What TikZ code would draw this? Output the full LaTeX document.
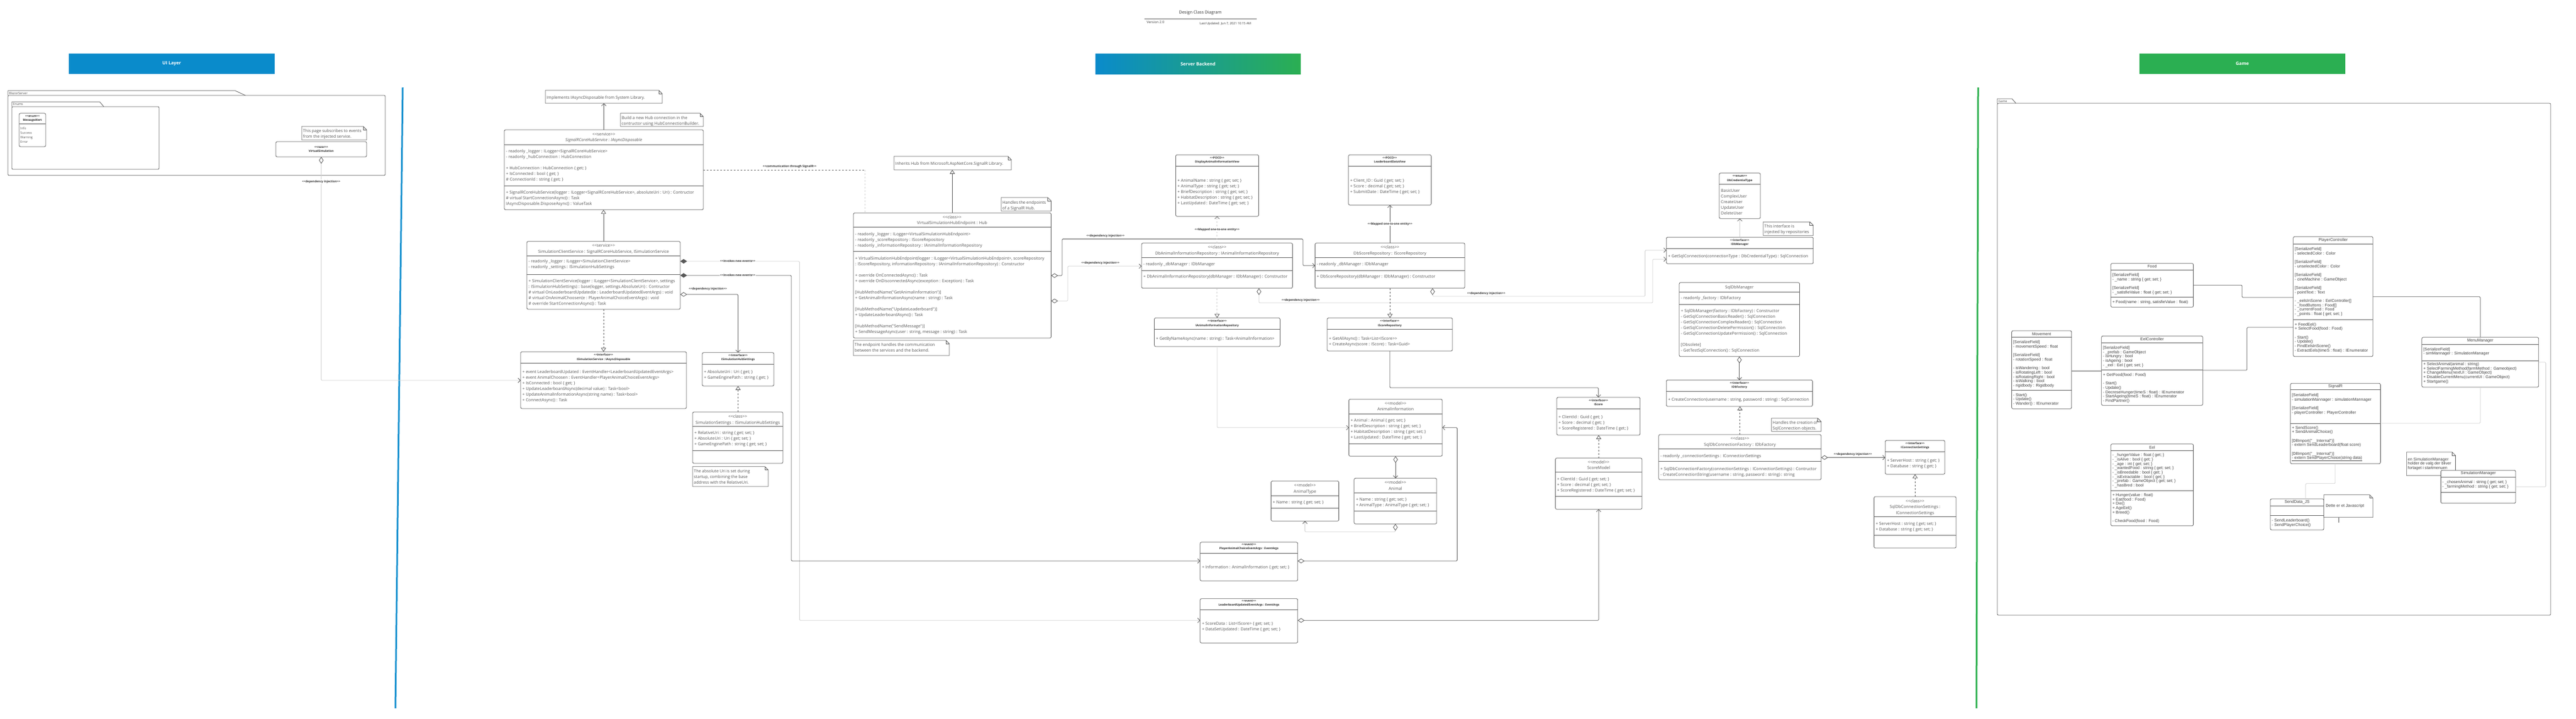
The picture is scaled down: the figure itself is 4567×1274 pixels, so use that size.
\documentclass[tikz,border=0pt]{standalone}
\usepackage{fontspec}
\newfontfamily\osans{Open Sans}
\newfontfamily\lsans{Liberation Sans}
\usetikzlibrary{arrows.meta}
\definecolor{bxl}{HTML}{5C5C5C}
\definecolor{txt}{HTML}{555555}
\definecolor{gtxt}{HTML}{404040}
\definecolor{dk}{HTML}{595959}
\definecolor{ltc}{HTML}{D0D0D0}
\definecolor{uiblue}{HTML}{0A8BCB}
\definecolor{gmgreen}{HTML}{2BAF52}
\definecolor{sepblue}{HTML}{1690CF}
\definecolor{sepgreen}{HTML}{2CB04E}
\tikzset{
  ubx/.style={draw=bxl,line width=0.8pt,fill=white,rounded corners=2.5pt,inner sep=0pt,outer sep=0pt},
  ubl/.style={draw=bxl,line width=0.8pt},
  pkg/.style={draw=bxl,line width=0.8pt},
  pkglbl/.style={font=\osans\fontsize{5.5}{6}\selectfont,text=black!70,anchor=west,inner sep=0pt},
  memst/.style={font=\osans\fontsize{7.3}{10}\selectfont,text=txt,align=left,inner sep=0pt,anchor=north west},
  gmemst/.style={font=\lsans\fontsize{7.2}{7.65}\selectfont,text=gtxt,align=left,inner sep=0pt,anchor=north west},
  hAst/.style={font=\osans\fontsize{7.3}{10.5}\selectfont,text=txt,align=center,inner sep=0pt},
  hBst/.style={font=\osans\bfseries\fontsize{5}{7.5}\selectfont,text=black!85,align=center,inner sep=0pt},
  gtitle/.style={font=\lsans\fontsize{7.2}{8}\selectfont,text=gtxt,inner sep=0pt},
  notest/.style={draw=bxl,line width=0.8pt,fill=white},
  conn/.style={line width=0.8pt,draw=dk,rounded corners=1.5pt},
  lconn/.style={line width=0.8pt,draw=ltc,rounded corners=1.5pt},
  lbl/.style={font=\osans\bfseries\fontsize{5.2}{6}\selectfont,text=black!80,inner sep=1pt},
  banner/.style={text=white,font=\osans\bfseries\fontsize{8}{9}\selectfont,inner sep=0pt,outer sep=0pt},
  oa/.tip={Straight Barb[length=4pt,width=8pt,color=dk]},
  tri/.tip={Triangle[length=7pt,width=9pt,color=dk,fill=white]},
  odia/.tip={Diamond[length=12pt,width=8pt,color=dk,fill=white]},
  fdia/.tip={Diamond[length=12pt,width=8pt,color=dk]},
}
\newcommand\ubox[5]{\node[ubx,minimum width={(#4)-(#2)},minimum height={(#5)-(#3)},anchor=north west] (#1) at (#2,#3) {};}
\newcommand\dv[3]{\draw[ubl] (#1,#3) -- (#2,#3);}
\newcommand\mem[3]{\node[memst] at ({#1+3},{#2-4.4}) {\strut #3};}
\newcommand\gmem[3]{\node[gmemst] at ({#1+2.5},{#2-2.7}) {\strut #3};}
\newcommand\hA[4]{\node[hAst] at (#1,#2) {\strut #3\\\strut #4};}
\newcommand\hB[4]{\node[hBst] at (#1,#2) {\strut #3\\\strut #4};}
\newcommand\unote[5]{%
  \node[inner sep=0pt,outer sep=0pt,minimum width={(#4)-(#2)},minimum height={(#5)-(#3)},anchor=north west] (#1) at (#2,#3) {};
  \draw[notest] (#2,#3) -- ({#4-6},#3) -- (#4,{#3+6}) -- (#4,#5) -- (#2,#5) -- cycle;
  \draw[ubl] ({#4-6},#3) -- ({#4-6},{#3+6}) -- (#4,{#3+6});}
\begin{document}
\begin{tikzpicture}[x=1pt,y=-1pt,font=\osans]
\useasboundingbox (0,0) rectangle (4567,1274);
\fill[white] (0,0) rectangle (4567,1274);

% ---------- title ----------
\node[font=\osans\fontsize{7.5}{9}\selectfont,text=black!80,inner sep=0pt] (title) at (2128,23) {Design Class Diagram};
\draw[black!60,line width=0.8pt] (2029,33) -- (2228,33);
\node[font=\osans\fontsize{6}{7}\selectfont,anchor=west,text=black!75,inner sep=0pt] (ver) at (2033,39) {Version 2.0};
\node[font=\osans\fontsize{5.5}{7}\selectfont,anchor=west,text=black!80,inner sep=0pt] (upd) at (2127,42) {Last Updated: Jun 7, 2021 10:15 AM};

% ---------- banners & separators ----------
\node[banner,fill=uiblue,minimum width=365,minimum height=36] (uiHdr) at (304.5,113) {UI Layer};
\node[banner,left color=uiblue,right color=gmgreen,minimum width=364,minimum height=36] (srvHdr) at (2124,113) {Server Backend};
\node[banner,fill=gmgreen,minimum width=365,minimum height=36] (gmHdr) at (3975.5,113) {Game};
\draw[sepblue,line width=3pt] (714,155) -- (701,1255);
\draw[sepgreen,line width=3pt] (3507,155) -- (3504,1255);

% ---------- UI layer ----------
\draw[pkg] (14,169) -- (14,160.7) -- (417,160.7) -- (435,169);
\draw[pkg,rounded corners=2pt] (14,169) rectangle (683,310.7);
\node[pkglbl] (pkgBlazor) at (16,165) {BlazorServer};
\draw[pkg] (21,189) -- (21,180.7) -- (177,180.7) -- (184,189);
\draw[pkg,rounded corners=2pt] (21,189) rectangle (282,300);
\node[pkglbl] (pkgEnums) at (23,185) {Enums};

\ubox{msgAlert}{34}{200.7}{81}{260}
\dv{34}{81}{219}
\hB{57.5}{209.5}{<<enum>>}{MessageAlert}
\node[font=\osans\fontsize{5.6}{8}\selectfont,text=txt,align=left,inner sep=0pt,anchor=north west] at (36,224) {\strut Info\\Success\\Warning\\Error};

\unote{noteUI}{535}{224}{650}{248}
\node[memst] at (537,227.3) {\strut This page subscribes to events\\from the injected service.};
\ubox{virtSim}{489}{251}{650}{278}
\hB{569.5}{264.5}{<<razor>>}{VirtualSimulation}

% ---------- Server: client side ----------
\unote{nImpl}{967}{160}{1174}{183}
\node[memst] at (969,168.6) {\strut Implements IAsyncDisposable from System Library.};
\unote{nBuild}{1100}{200.7}{1247}{224}
\node[memst] at (1102,203.9) {\strut Build a new Hub connection in the\\contructor using HubConnectionBuilder.};

\ubox{hubSvc}{894}{230}{1247}{371.7}
\dv{894}{1247}{256.7}\dv{894}{1247}{329}
\hA{1070.5}{243.5}{<<service>>}{{\itshape SignalRCoreHubService : IAsyncDisposable}}
\mem{894}{268}{- readonly \_logger : ILogger<SignalRCoreHubService>\\- readonly \_hubConnection : HubConnection\\~\\+ HubConnection : HubConnection \{ get; \}\\+ IsConnected : bool \{ get; \}\\\# ConnectionId : string \{ get; \}}
\mem{894}{341}{+ SignalRCoreHubService(logger : ILogger<SignalRCoreHubService>, absoluteUri : Uri) : Contructor\\\# virtual StartConnectionAsync() : Task\\IAsyncDisposable.DisposeAsync() : ValueTask}

\ubox{simCli}{934}{427.7}{1206}{548}
\dv{934}{1206}{453}\dv{934}{1206}{486}
\hA{1070}{441}{<<service>>}{SimulationClientService : SignalRCoreHubService, ISimulationService}
\mem{934}{463}{- readonly \_logger : ILogger<SimulationClientService>\\- readonly \_settings : ISimulationHubSettings}
\mem{934}{497.7}{+ SimulationClientService(logger : ILogger<SimulationClientService>, settings\\: ISimulationHubSettings) : base(logger, settings.AbsoluteUri) : Contructor\\\# virtual OnLeaderboardUpdated(e : LeaderboardUpdatedEventArgs) : void\\\# virtual OnAnimalChoosen(e : PlayerAnimalChoiceEventArgs) : void\\\# override StartConnectionAsync() : Task}

\ubox{iss}{923}{623.3}{1217}{724}
\dv{923}{1217}{643.3}
\hB{1070}{632.8}{<<interface>>}{ISimulationService : IAsyncDisposable}
\mem{923}{659}{+ event LeaderboardUpdated : EventHandler<LeaderboardUpdatedEventArgs>\\+ event AnimalChoosen : EventHandler<PlayerAnimalChoiceEventArgs>\\+ IsConnected : bool \{ get; \}\\+ UpdateLeaderboardAsync(decimal value) : Task<bool>\\+ UpdateAnimalInformationAsync(string name) : Task<bool>\\+ ConnectAsync() : Task}

\ubox{ishs}{1245}{624.7}{1372}{684}
\dv{1245}{1372}{645}
\hB{1308.5}{633.7}{<<interface>>}{ISimulationHubSettings}
\mem{1245}{659}{+ AbsoluteUri : Uri \{ get; \}\\+ GameEnginePath : string \{ get; \}}

\ubox{simSet}{1228}{730}{1388}{821}
\dv{1228}{1388}{755.7}\dv{1228}{1388}{798}
\hA{1308}{744}{<<class>>}{SimulationSettings : ISimulationHubSettings}
\mem{1228}{767}{+ RelativeUri : string \{ get; set; \}\\+ AbsoluteUri : Uri \{ get; set; \}\\+ GameEnginePath : string \{ get; set; \}}
\unote{nUri}{1228}{826.7}{1362}{862}
\node[memst] at (1230,830.3) {\strut The absolute Uri is set during\\startup, combining the base\\address with the RelativeUri.};

% connectors client side
\draw[conn,-oa] (hubSvc.north) -- (hubSvc.north |- nImpl.south);
\draw[conn,-tri] (simCli.north) -- (simCli.north |- hubSvc.south);
\draw[conn,dashed,-tri] (simCli.south) -- (simCli.south |- iss.north);
\draw[lconn,fdia-oa] (simCli.east |- 0,463) -- (1417.5,463) -- (1417.5,1099.3) -- (2127.8,1099.3);
\draw[conn,fdia-oa] (simCli.east |- 0,488) -- (1403,488) -- (1403,994) -- (2127.8,994);
\draw[conn,odia-oa] (simCli.east |- 0,521.7) -| (ishs.north);
\draw[conn,dashed,-tri] (ishs.south |- simSet.north) -- (ishs.south);
\draw[lconn,odia-oa] (virtSim.south) |- (iss.west |- 0,674);
\node[lbl,fill=white] (lblVS) at (569.5,322) {<<dependency injection>>};
\node[lbl,fill=white] (lblInv1) at (1308,463) {<<invokes new events>>};
\node[lbl,fill=white] (lblInv2) at (1308,488) {<<invokes new events>>};
\node[lbl] (lblDI1) at (1255,512) {<<dependency injection>>};

% ---------- Server: hub endpoint ----------
\unote{nHub}{1585}{277}{1793}{301}
\node[memst] at (1587,285.3) {\strut Inherits Hub from Microsoft.AspNetCore.SignalR Library.};
\unote{nEndp}{1775}{350}{1863.6}{374}
\node[memst] at (1777,353.9) {\strut Handles the endpoints\\of a SignalR Hub.};
\ubox{vshe}{1513}{377.3}{1863.6}{599}
\dv{1513}{1863.6}{402}\dv{1513}{1863.6}{445}
\hA{1688}{390.5}{<<class>>}{VirtualSimulationHubEndpoint : Hub}
\mem{1513}{414.7}{- readonly \_logger : ILogger<VirtualSimulationHubEndpoint>\\- readonly \_scoreRepository : IScoreRepository\\- readonly \_informationRepository : IAnimalInformationRepository}
\mem{1513}{457.3}{+ VirtualSimulationHubEndpoint(logger : ILogger<VirtualSimulationHubEndpoint>, scoreRepository\\: IScoreRepository, informationRepository : IAnimalInformationRepository) : Constructor\\~\\+ override OnConnectedAsync() : Task\\+ override OnDisconnectedAsync(exception : Exception) : Task\\~\\{}[HubMethodName("GetAnimalInformation")]\\+ GetAnimalInformationAsync(name : string) : Task\\~\\{}[HubMethodName("UpdateLeaderboard")]\\+ UpdateLeaderboardAsync() : Task\\~\\{}[HubMethodName("SendMessage")]\\+ SendMessageAsync(user : string, message : string) : Task}
\unote{nComm}{1513}{603}{1683}{630}
\node[memst] at (1515,606.6) {\strut The endpoint handles the communication\\between the services and the backend.};

\draw[conn,-tri] (vshe.north) -- (vshe.north |- nHub.south);
\draw[conn,dashed] (hubSvc.east |- 0,301) -- (1533,301);
\draw[lconn,dashed] (1533,301) -- (vshe.north -| 1533,0);
\node[lbl] (lblComm) at (1400,295) {<<communication through SignalR>>};

% ---------- Server: repositories ----------
\ubox{dispView}{2084.4}{274.3}{2231.5}{383.3}
\dv{2084.4}{2231.5}{294}
\hB{2158}{283.3}{<<POCO>>}{DisplayAnimalInformationView}
\mem{2084.4}{319.3}{+ AnimalName : string \{ get; set; \}\\+ AnimalType : string \{ get; set; \}\\+ BriefDescription : string \{ get; set; \}\\+ HabitatDescription : string \{ get; set; \}\\+ LastUpdated : DateTime \{ get; set; \}}

\ubox{lbView}{2390.7}{274.3}{2537.4}{363.3}
\dv{2390.7}{2537.4}{294}
\hB{2464}{283.3}{<<POCO>>}{LeaderboardDataView}
\mem{2390.7}{319.3}{+ Client\_ID : Guid \{ get; set; \}\\+ Score : decimal \{ get; set; \}\\+ SubmitDate : DateTime \{ get; set; \}}

\ubox{dbAnim}{2024}{430.7}{2291.5}{510.7}
\dv{2024}{2291.5}{456.7}\dv{2024}{2291.5}{479}
\hA{2157.8}{444}{<<class>>}{DbAnimalInformationRepository : IAnimalInformationRepository}
\mem{2024}{467.3}{- readonly \_dbManager : IDbManager}
\mem{2024}{490}{+ DbAnimalInformationRepository(dbManager : IDbManager) : Constructor}

\ubox{dbScore}{2331.5}{430.7}{2597}{510.7}
\dv{2331.5}{2597}{456.7}\dv{2331.5}{2597}{479}
\hA{2464.3}{444}{<<class>>}{DbScoreRepository : IScoreRepository}
\mem{2331.5}{467.3}{- readonly \_dbManager : IDbManager}
\mem{2331.5}{490}{+ DbScoreRepository(dbManager : IDbManager) : Constructor}

\ubox{iair}{2046.5}{563.3}{2269.4}{614}
\dv{2046.5}{2269.4}{583.3}
\hB{2158}{573}{<<interface>>}{IAnimalInformationRepository}
\mem{2046.5}{600}{+ GetByNameAsync(name : string) : Task<AnimalInformation>}

\ubox{isr}{2353}{563.3}{2575}{622}
\dv{2353}{2575}{583.3}
\hB{2464}{573}{<<interface>>}{IScoreRepository}
\mem{2353}{599.3}{+ GetAllAsync() : Task<List<IScore>>\\+ CreateAsync(score : IScore) : Task<Guid>}

\ubox{animInfo}{2391.4}{707.3}{2557}{808.3}
\dv{2391.4}{2557}{733.3}\dv{2391.4}{2557}{786.7}
\hA{2474.2}{720.5}{<<model>>}{AnimalInformation}
\mem{2391.4}{744.7}{+ Animal : Animal \{ get; set; \}\\+ BriefDescription : string \{ get; set; \}\\+ HabitatDescription : string \{ get; set; \}\\+ LastUpdated : DateTime \{ get; set; \}}

\ubox{animal}{2400.8}{847.3}{2547}{928.3}
\dv{2400.8}{2547}{873.3}\dv{2400.8}{2547}{905.7}
\hA{2473.9}{860.8}{<<model>>}{Animal}
\mem{2400.8}{884.7}{+ Name : string \{ get; set; \}\\+ AnimalType : AnimalType \{ get; set; \}}

\ubox{animType}{2253.5}{852.3}{2373.6}{923.3}
\dv{2253.5}{2373.6}{878.3}\dv{2253.5}{2373.6}{900}
\hA{2313.5}{865.7}{<<model>>}{AnimalType}
\mem{2253.5}{890}{+ Name : string \{ get; set; \}}

\ubox{paEv}{2127.8}{960.7}{2300.7}{1029.3}
\dv{2127.8}{2300.7}{980.7}
\hB{2214.2}{968.7}{<<event>>}{PlayerAnimalChoiceEventArgs : EventArgs}
\mem{2127.8}{1005}{+ Information : AnimalInformation \{ get; set; \}}

\ubox{luEv}{2127.8}{1060.7}{2300.7}{1139.3}
\dv{2127.8}{2300.7}{1080.7}
\hB{2214.2}{1068.7}{<<event>>}{LeaderboardUpdatedEventArgs : EventArgs}
\mem{2127.8}{1105}{+ ScoreData : List<IScore> \{ get; set; \}\\+ DataSetUpdated : DateTime \{ get; set; \}}

\ubox{iscore}{2760}{704}{2907.7}{771}
\dv{2760}{2907.7}{724}
\hB{2833.9}{713.7}{<<interface>>}{IScore}
\mem{2760}{738.3}{+ ClientId : Guid \{ get; \}\\+ Score : decimal \{ get; \}\\+ ScoreRegistered : DateTime \{ get; \}}

\ubox{scoreModel}{2757.5}{811.7}{2911}{902.3}
\dv{2757.5}{2911}{836.3}\dv{2757.5}{2911}{879.3}
\hA{2834.2}{824.5}{<<model>>}{ScoreModel}
\mem{2757.5}{848.7}{+ ClientId : Guid \{ get; set; \}\\+ Score : decimal \{ get; set; \}\\+ ScoreRegistered : DateTime \{ get; set; \}}

% ---------- Server: database ----------
\ubox{dbCred}{3048}{306.7}{3121}{387.3}
\dv{3048}{3121}{326.7}
\hB{3084.5}{316}{<<enum>>}{DbCredentialType}
\mem{3048}{337.3}{BasicUser\\ComplexUser\\CreateUser\\UpdateUser\\DeleteUser}
\unote{nInj}{3126}{393.3}{3214.8}{417.3}
\node[memst] at (3128,396.3) {\strut This interface is\\injected by repositories};

\ubox{idbm}{2954.2}{420.3}{3214.8}{467.3}
\dv{2954.2}{3214.8}{440.3}
\hB{3084.5}{429.3}{<<interface>>}{IDbManager}
\mem{2954.2}{454}{+ GetSqlConnection(connectionType : DbCredentialType) : SqlConnection}

\ubox{sqlMgr}{2977}{500.7}{3190.5}{631.7}
\dv{2977}{3190.5}{517.3}\dv{2977}{3190.5}{539}
\node[hAst] (sqlMgrT) at (3083.75,509.3) {SqlDbManager};
\mem{2977}{528}{- readonly \_factory : IDbFactory}
\mem{2977}{550.7}{+ SqlDbManager(factory : IDbFactory) : Constructor\\- GetSqlConnectionBasicReader() : SqlConnection\\- GetSqlConnectionComplexReader() : SqlConnection\\- GetSqlConnectionDeletePermission() : SqlConnection\\- GetSqlConnectionUpdatePermission() : SqlConnection\\~\\{}[Obsolete]\\- GetTestSqlConnection() : SqlConnection}

\ubox{idbf}{2954.2}{673.3}{3213.4}{720}
\dv{2954.2}{3213.4}{693.3}
\hB{3083.8}{682.7}{<<interface>>}{IDbFactory}
\mem{2954.2}{707.3}{+ CreateConnection(username : string, password : string) : SqlConnection}

\unote{nCreate}{3140.7}{741}{3228.7}{764.3}
\node[memst] at (3142.7,743.9) {\strut Handles the creation of\\SqlConnection objects.};
\ubox{sqlFac}{2940.7}{770}{3228.7}{850}
\dv{2940.7}{3228.7}{795.7}\dv{2940.7}{3228.7}{817.7}
\hA{3084.7}{783}{<<class>>}{SqlDbConnectionFactory : IDbFactory}
\mem{2940.7}{807.7}{- readonly \_connectionSettings : IConnectionSettings}
\mem{2940.7}{830.3}{+ SqlDbConnectionFactory(connectionSettings : IConnectionSettings) : Contructor\\- CreateConnectionString(username : string, password : string) : string}

\ubox{ics}{3342.3}{780.3}{3448}{840.3}
\dv{3342.3}{3448}{800}
\hB{3395.2}{789.7}{<<interface>>}{IConnectionSettings}
\mem{3342.3}{815.7}{+ ServerHost : string \{ get; \}\\+ Database : string \{ get; \}}

\ubox{sqlSet}{3322.4}{880}{3468}{971}
\dv{3322.4}{3468}{915.3}\dv{3322.4}{3468}{948.3}
\node[hAst] (sqlSetT) at (3395.2,898.5) {\strut <<class>>\\\strut SqlDbConnectionSettings :\\\strut IConnectionSettings};
\mem{3322.4}{927.3}{+ ServerHost : string \{ get; set; \}\\+ Database : string \{ get; set; \}}

% connectors server side
\draw[conn,odia-oa] (vshe.east |- 0,488.3) -- (1883,488.3) -- (1883,423.5) -- (2310,423.5) -- (2310,470.7) -- (dbScore.west |- 0,470.7);
\draw[lconn,odia-oa] (vshe.east |- 0,533.3) -- (1893,533.3) -- (1893,471.7) -- (dbAnim.west |- 0,471.7);
\node[lbl] (lblDI2) at (1960,418) {<<dependency injection>>};
\node[lbl] (lblDI3) at (1951,466) {<<dependency injection>>};
\draw[lconn,dashed,-oa] (dbAnim.north) -- (dbAnim.north |- dispView.south);
\node[lbl,fill=white] (lblMap1) at (2157.8,407) {<<Mapped one-to-one entity>>};
\draw[conn,-oa] (dbScore.north) -- (dbScore.north |- lbView.south);
\node[lbl,fill=white] (lblMap2) at (2464.3,396.7) {<<Mapped one-to-one entity>>};
\draw[lconn,odia-oa] (dbAnim.south -| 2232,0) -- (2232,536.7) -- (2930,536.7) -- (2930,459.3) -- (idbm.west |- 0,459.3);
\draw[lconn,odia-oa] (dbScore.south -| 2539.8,0) -- (2539.8,525) -- (2916.6,525) -- (2916.6,443.3) -- (idbm.west |- 0,443.3);
\node[lbl] (lblDI4) at (2306,531.7) {<<dependency injection>>};
\node[lbl] (lblDI5) at (2635,519.7) {<<dependency injection>>};
\draw[lconn,dashed,-tri] (dbAnim.south) -- (dbAnim.south |- iair.north);
\draw[conn,dashed,-tri] (dbScore.south) -- (dbScore.south |- isr.north);
\draw[lconn,-oa] (iair.south) |- (animInfo.west |- 0,757.7);
\draw[conn,-oa] (isr.south) -- (2464,687) -| (iscore.north);
\draw[conn,odia-oa] (paEv.east |- 0,994) -- (2583.4,994) -- (2583.4,757.7) -- (animInfo.east |- 0,757.7);
\draw[conn,odia-oa] (luEv.east |- 0,1099.3) -| (scoreModel.south);
\draw[conn,odia-oa] (animInfo.south) -- (animInfo.south |- animal.north);
\draw[lconn,odia-oa] (animal.south) -- (2473.9,942.3) -| (animType.south);
\draw[conn,dashed,-tri] (scoreModel.north) -- (scoreModel.north |- iscore.south);
\draw[lconn,-oa] (idbm.north) -- (idbm.north |- dbCred.south);
\draw[conn,odia-oa] (sqlMgr.south) -- (sqlMgr.south |- idbf.north);
\draw[conn,dashed,-tri] (sqlFac.north) -- (sqlFac.north |- idbf.south);
\draw[conn,odia-oa] (sqlFac.east |- 0,810.7) -- (ics.west |- 0,810.7);
\node[lbl] (lblDI6) at (3285,805.3) {<<dependency injection>>};
\draw[conn,dashed,-tri] (sqlSet.north) -- (sqlSet.north |- ics.south);

% ---------- Game ----------
\draw[pkg] (3541,183) -- (3541,175) -- (3567,175) -- (3574,183);
\draw[pkg,rounded corners=2pt] (3541,183) rectangle (4522,1090);
\node[pkglbl] (pkgGame) at (3543,179.5) {Game};

\ubox{food}{3742.3}{466.7}{3888.6}{544.3}
\dv{3742.3}{3888.6}{478}\dv{3742.3}{3888.6}{526}
\node[gtitle] (foodT) at (3815.5,472.3) {Food};
\gmem{3742.3}{486.7}{[SerializeField]\\- \_name : string \{ get; set; \}\\~\\{}[SerializeField]\\- \_satisfieValue : float \{ get; set; \}}
\gmem{3742.3}{534.7}{+ Food(name : string, satisfieValue : float)}

\ubox{movement}{3566.5}{586}{3672.7}{724.3}
\dv{3566.5}{3672.7}{597.3}\dv{3566.5}{3672.7}{691.7}
\node[gtitle] (movT) at (3619.6,591.7) {Movement};
\gmem{3566.5}{606}{[SerializeField]\\- movementSpeed : float\\~\\{}[SerializeField]\\- rotationSpeed : float\\~\\- isWandering : bool\\- isRotatingLeft : bool\\- isRotatingRight : bool\\- isWalking : bool\\- rigidbody : Rigidbody}
\gmem{3566.5}{699.3}{- Start()\\- Update()\\- Wander() : IEnumerator}

\ubox{eelCtrl}{3725.7}{595.3}{3905.2}{718.3}
\dv{3725.7}{3905.2}{607.3}\dv{3725.7}{3905.2}{655.7}
\node[gtitle] (eelCT) at (3815.5,601.3) {EelController};
\gmem{3725.7}{615.7}{[SerializeField]\\- \_prefab : GameObject\\- isHungry : bool\\- isAgeing : bool\\- \_eel : Eel \{ get; set; \}}
\gmem{3725.7}{663.7}{+ GetFood(food : Food)\\~\\- Start()\\- Update()\\- DecreseHunger(timeS : float) : IEnumerator\\- StartAgeing(timeS : float) : IEnumerator\\- FindPartner()}

\ubox{eel}{3742.3}{786.7}{3888.6}{931.7}
\dv{3742.3}{3888.6}{798.3}\dv{3742.3}{3888.6}{869.3}
\node[gtitle] (eelT) at (3815.5,792.5) {Eel};
\gmem{3742.3}{806}{- \_hungerValue : float \{ get; \}\\- \_isAlive : bool \{ get; \}\\- \_age : int \{ get; set; \}\\- \_wantedFood : string \{ get; set; \}\\- \_isBreedable : bool \{ get; \}\\- \_isExtractable : bool \{ get; \}\\- \_prefab : GameObject \{ get; set; \}\\- \_hasBred : bool}
\gmem{3742.3}{876.7}{+ Hunger(value : float)\\+ Eat(food : Food)\\+ Die()\\+ AgeEel()\\+ Breed()\\~\\- CheckFood(food : Food)}

\ubox{player}{4065.7}{419.3}{4207}{631.7}
\dv{4065.7}{4207}{432}\dv{4065.7}{4207}{566.7}
\node[gtitle] (playerT) at (4136.4,425.7) {PlayerController};
\gmem{4065.7}{440.7}{[SerializeField]\\- selectedColor : Color\\~\\{}[SerializeField]\\- unselectedColor : Color\\~\\{}[SerializeField]\\- cineMachine : GameObject\\~\\{}[SerializeField]\\- pointText : Text\\~\\- \_eelsInScene : EelController[]\\- \_foodButtons : Food[]\\- \_currentFood : Food\\- \_points : float \{ get; set; \}}
\gmem{4065.7}{574.3}{+ FeedEel()\\+ SelectFood(food : Food)\\~\\- Start()\\- Update()\\- FindEelsInScene()\\- ExtractEels(timeS : float) : IEnumerator}

\ubox{menu}{4293.7}{597.7}{4500.7}{686}
\dv{4293.7}{4500.7}{610}\dv{4293.7}{4500.7}{639.3}
\node[gtitle] (menuT) at (4397.2,603.8) {MenuManager};
\gmem{4293.7}{618.3}{[SerializeField]\\- simMannager : SimulationManager}
\gmem{4293.7}{644.7}{+ SelectAnimal(animal : string)\\+ SelectFarmingMethod(farmMethod : Gameobject)\\+ ChangeMenu(nextUI : GameObject)\\+ DisableCurrentMenu(currentUI : GameObject)\\+ Startgame()}

\ubox{signalr}{4060.7}{679.3}{4220.3}{821.7}
\dv{4060.7}{4220.3}{690}\dv{4060.7}{4220.3}{750}
\node[gtitle] (signalrT) at (4140.5,684.7) {SignalR};
\gmem{4060.7}{700}{[SerializeField]\\- simulationMannager : simulationMannager\\~\\{}[SerializeField]\\- playerController : PlayerController}
\gmem{4060.7}{757.3}{+ SendScore()\\+ SendAnimalChoice()\\~\\{}[DllImport("\_\_Internal")]\\- extern SendLeaderboard(float score)\\~\\{}[DllImport("\_\_Internal")]\\\underline{- extern SendPlayerChoice(string data)}}

\unote{nSimMgr}{4266.7}{801}{4353.3}{842.7}
\node[gmemst] at (4268.7,810.6) {\strut en SimulationManager\\holder de valg der bliver\\fortaget i startmenuen};
\ubox{simMgr}{4327.3}{833.3}{4460}{891.7}
\dv{4327.3}{4460}{845}\dv{4327.3}{4460}{872.7}
\node[gtitle] (simMgrT) at (4393.7,839) {SimulationManager};
\gmem{4327.3}{854}{- \_chosenAnimal : string \{ get; set; \}\\- \_farmingMethod : string \{ get; set; \}}

\ubox{sendJs}{4025}{884}{4120}{939}
\dv{4025}{4120}{896}\dv{4025}{4120}{913}
\node[gtitle] (sendJsT) at (4072.5,890) {SendData\_JS};
\gmem{4025}{922}{- SendLeaderboard()\\- SendPlayerChoice()}
\unote{nJs}{4120}{876.7}{4207}{916.7}
\node[gmemst,anchor=west] at (4123,896.7) {Dette er et Javascript};

% game connectors
\draw[conn] (food.east |- 0,505.3) -- (3975,505.3) -- (3975,527) -- (player.west |- 0,527);
\draw[conn] (movement.east |- 0,657.3) -- (eelCtrl.west |- 0,657.3);
\draw[conn] (eelCtrl.east |- 0,656) -- (3983.8,656) -- (3983.8,580) -- (player.west |- 0,580);
\draw[conn] (player.east |- 0,525.7) -| (menu.north);
\draw[lconn] (menu.south) |- (signalr.east |- 0,750);
\draw[lconn] (menu.east |- 0,641.7) -- (4513.3,641.7) |- (simMgr.east |- 0,862.7);
\draw[lconn] (signalr.south -| 4140,0) -- (4140,856.7) -| (sendJs.north -| 4087.7,0);
\draw[conn] (nJs.south -| 4146.7,0) -- (4146.7,926);
\end{tikzpicture}
\end{document}
